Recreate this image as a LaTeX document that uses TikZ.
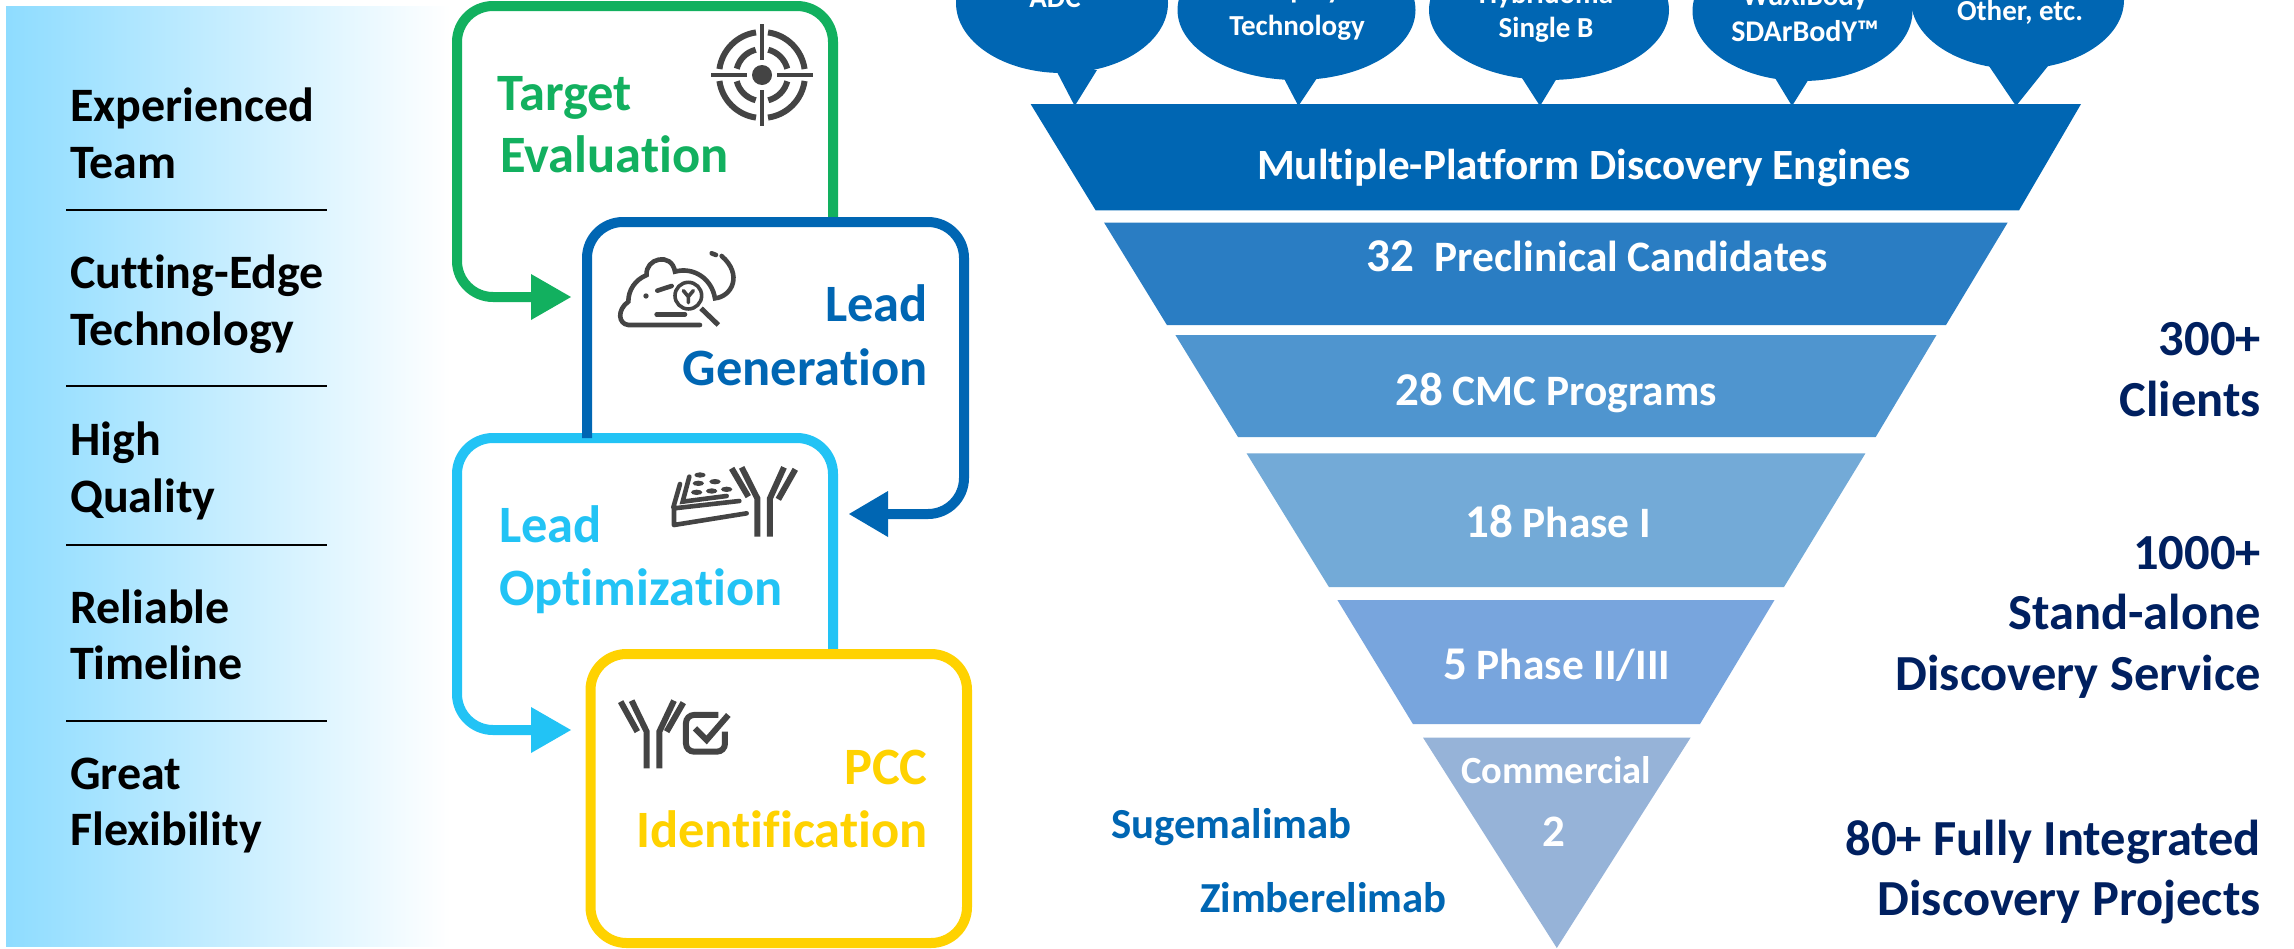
\documentclass[tikz,border=0pt]{standalone}
\usepackage{fontspec}
\setmainfont{Carlito}[Ligatures=NoCommon]
\definecolor{cgreen}{HTML}{12B05F}
\definecolor{cblue}{HTML}{0066B3}
\definecolor{csky}{HTML}{22C3F5}
\definecolor{cyel}{HTML}{FFD200}
\definecolor{cicon}{HTML}{444444}
\definecolor{cnavy}{HTML}{002060}
\definecolor{cpanel}{HTML}{8EDCFF}
\definecolor{fa}{HTML}{2A7DC3}
\definecolor{fb}{HTML}{4F95CF}
\definecolor{fc}{HTML}{73AAD7}
\definecolor{fd}{HTML}{78A5DD}
\definecolor{fe}{HTML}{96B3D8}
\newcommand{\fsz}[1]{\fontsize{#1}{#1}\selectfont\bfseries}
\tikzset{
  sidelabel/.style={font=\fsz{48},anchor=base west,inner sep=0pt,text=black},
  sep/.style={draw=black,line width=1.6pt},
  loopline/.style={line width=10pt,rounded corners=36pt},
  boxtext/.style={font=\fsz{52.5},inner sep=0pt},
  icon/.style={draw=cicon,line width=6pt,line cap=butt},
  iconthin/.style={draw=cicon,line width=4.6pt,line cap=round},
  bubbletext/.style={font=\fsz{29},text=white,anchor=base,inner sep=0pt},
  funneltext/.style={font=\fsz{43.4},text=white,anchor=base west,inner sep=0pt},
  stat/.style={font=\fsz{50.5},text=cnavy,anchor=base east,inner sep=0pt},
  drug/.style={font=\fsz{42.8},text=cblue,anchor=base west,inner sep=0pt},
}
\begin{document}
\begin{tikzpicture}[x=1pt,y=-1pt]
\useasboundingbox (0,0) rectangle (2294,948);
\clip (0,0) rectangle (2294,948);
\fill[white] (0,0) rectangle (2294,948);
% left panel
\fill[left color=cpanel,right color=white] (6,6) rectangle (450,946);
\foreach \n/\yy/\t in {a/121/Experienced,b/178/Team,c/288/Cutting-Edge,d/345/Technology,e/455/High,f/512/Quality,g/623/Reliable,h/679/Timeline,i/789/Great,j/845.5/Flexibility}
  \node[sidelabel] (side\n) at (70,\yy) {\t};
\foreach \yy in {210,386,545,721}
  \draw[sep] (66,\yy) -- (327,\yy);

% process boxes
\draw[loopline,draw=cgreen] (833,222) -- (833,6) -- (457,6) -- (457,297) -- (535,297);
\fill[cgreen] (571,297) -- (531,274) -- (531,320) -- cycle;
\draw[loopline,draw=csky] (833,654) -- (833,438) -- (457,438) -- (457,730) -- (535,730);
\fill[csky] (571,730) -- (531,707) -- (531,753) -- cycle;
\draw[loopline,draw=cblue] (587,438) -- (587,222) -- (964,222) -- (964,514) -- (884,514);
\fill[cblue] (849,514) -- (888,491) -- (888,537) -- cycle;
\draw[line width=10pt,rounded corners=36pt,draw=cyel] (590.5,654) rectangle (967,943);

\node[boxtext,text=cgreen,anchor=base west] (t1) at (497,110) {Target};
\node[boxtext,text=cgreen,anchor=base west] (t2) at (500,172) {Evaluation};
\node[boxtext,text=cblue,anchor=base east] (t3) at (928,321) {Lead};
\node[boxtext,text=cblue,anchor=base east] (t4) at (928,385) {Generation};
\node[boxtext,text=csky,anchor=base west] (t5) at (499,542) {Lead};
\node[boxtext,text=csky,anchor=base west] (t6) at (499,605) {Optimization};
\node[boxtext,text=cyel,anchor=base east] (t7) at (928,784) {PCC};
\node[boxtext,text=cyel,anchor=base east] (t8) at (928,847) {Identification};

% target icon
\begin{scope}[shift={(762,75)}]
  \fill[cicon] (0,0) circle (10);
  \foreach \a in {0,90,180,270} {
    \draw[icon,line width=6pt] (\a+8:43) arc[start angle=\a+8,end angle=\a+82,radius=43];
    \draw[icon,line width=6pt] (\a+14:26) arc[start angle=\a+14,end angle=\a+76,radius=26];
    \draw[icon,line width=4.5pt] (\a:15) -- (\a:51);
  }
\end{scope}
% mouse icon
\begin{scope}[shift={(600,0)},x=0.3333pt,y=-0.3333pt]
  \draw[iconthin] (300,975) -- (85,975) .. controls (55,972) and (50,930) .. (85,905)
    .. controls (85,870) and (105,840) .. (140,825)
    .. controls (135,775) and (215,755) .. (225,815)
    .. controls (280,800) and (335,835) .. (345,895)
    .. controls (395,890) and (430,825) .. (365,768);
  \draw[iconthin] (335,760) -- (348,765);
  \draw[iconthin] (172,872) -- (215,858);
  \draw[iconthin] (170,943) -- (255,943);
  \fill[cicon] (138,888) circle (8);
  \draw[iconthin,line width=3.6pt] (265,887) circle (40);
  \draw[iconthin,line width=3.6pt] (250,872) -- (265,890) -- (280,872) (265,890) -- (265,908);
  \draw[icon,line width=5pt] (303,925) -- (355,975);
\end{scope}
% plate + antibody icon
\begin{scope}[shift={(600,430)},x=0.3333pt,y=-0.3333pt]
  \draw[iconthin] (222,235) -- (418,213) (222,285) -- (440,250) (222,235) -- (222,285)
    (240,162) -- (220,232) (268,140) -- (248,215) -- (380,198);
  \foreach \px/\py in {300/135,295/160,345/155,290/187,335/183,380/178}
    \fill[cicon] (\px,\py) ellipse (17 and 8);
  \draw[icon] (472,320) -- (472,205) -- (425,112) (510,320) -- (510,205) -- (552,112)
    (395,115) -- (445,200) (586,118) -- (535,208);
\end{scope}
% antibody + check icon
\begin{scope}[shift={(600,430)},x=0.3333pt,y=-0.3333pt]
  \draw[icon] (140,1015) -- (140,905) -- (95,812) (178,1015) -- (178,905) -- (222,812)
    (62,815) -- (112,905) (250,818) -- (200,905);
  \draw[icon,rounded corners=8pt,line width=6pt] (355,855) -- (258,855) -- (258,965) -- (375,965) -- (375,905);
  \draw[icon,line width=6pt] (285,895) -- (320,930) -- (385,855);
\end{scope}

% bubbles
\foreach \cx/\cy/\rx/\ry/\pa/\pb/\py/\tip in {
  1062/3/106/70/1056/1097/70/1074.7,
  1296.5/10/119/70/1283.7/1317/78/1298.4,
  1549/10/120/70/1522/1557/78/1540,
  1802.5/11/110/70/1775/1809.5/78/1792,
  2017.5/0/106.5/69/1989/2048/66/2016}{
  \fill[cblue] (\cx,\cy) ellipse ({\rx} and {\ry});
  \fill[cblue] (\pa,\py) -- (\tip,106) -- (\pb,\py) -- cycle;
}
\node[bubbletext] (b1) at (1055,7) {ADC};
\node[bubbletext] (b2a) at (1297,-2) {Display};
\node[bubbletext] (b2b) at (1297,35) {Technology};
\node[bubbletext] (b3a) at (1546,3) {Hybridoma};
\node[bubbletext] (b3b) at (1546,37) {Single B};
\node[bubbletext] (b4a) at (1805,5) {WuXiBody};
\node[bubbletext,font=\fsz{30}] (b4b) at (1805,41) {SDArBodY™};
\node[bubbletext] (b5) at (2020,20) {Other, etc.};

% funnel
\fill[cblue] (1030.6,104) -- (2081,104) -- (2019,210.4) -- (1095.7,210.4) -- cycle;
\fill[fa] (1104,222.5) -- (2007.7,222.5) -- (1946,325) -- (1166.9,325) -- cycle;
\fill[fb] (1175.4,335) -- (1936.5,335) -- (1875.7,437) -- (1238,437) -- cycle;
\fill[fc] (1246.6,453.4) -- (1865.4,453.4) -- (1784,587) -- (1328.9,587) -- cycle;
\fill[fd] (1337.4,600) -- (1774.5,600) -- (1700,724) -- (1412.9,724) -- cycle;
\fill[fe] (1423,737.6) -- (1690.6,737.6) -- (1556.8,948) -- cycle;

\node[funneltext,font=\fsz{43.2}] (f0) at (1257,179) {Multiple-Platform Discovery Engines};
\node[funneltext] (f1) at (1366,271) {{\fsz{47}32}\hspace{21pt}Preclinical Candidates};
\node[funneltext] (f2) at (1395,405) {{\fsz{47}28} CMC Programs};
\node[funneltext] (f3) at (1465,537) {{\fsz{47}18} Phase I};
\node[funneltext] (f4) at (1443,679) {{\fsz{47}5} Phase II/III};
\node[funneltext,font=\fsz{38.5}] (f5) at (1461,783) {Commercial};
\node[funneltext,font=\fsz{45},anchor=base] (f6) at (1554,846) {2};
\node[drug] (d1) at (1111,838) {Sugemalimab};
\node[drug] (d2) at (1200,912) {Zimberelimab};

\foreach \n/\yy/\t in {a/355.5/300+,b/416.5/Clients,c/569/1000+,d/629.5/Stand-alone,e/690.5/Discovery Service,f/855/80+ Fully Integrated,g/915.5/Discovery Projects}
  \node[stat] (stat\n) at (2261,\yy) {\t};
\end{tikzpicture}
\end{document}
